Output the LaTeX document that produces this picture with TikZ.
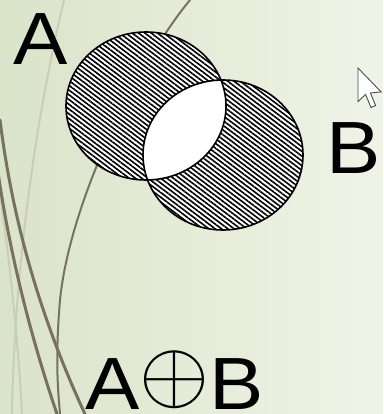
\documentclass[tikz,border=0pt]{standalone}
\usepackage{fontspec}
\setmainfont{Liberation Sans}
\usetikzlibrary{patterns.meta}
\definecolor{slideleft}{RGB}{218,228,201}
\definecolor{slideright}{RGB}{240,243,231}
\definecolor{stem}{RGB}{120,113,96}
\definecolor{stemfaint}{RGB}{200,206,183}
\newcommand{\widetext}[1]{\scalebox{1.1}[1]{#1}}
\begin{document}
\begin{tikzpicture}[
        x=1pt, y=-1pt,
        setlabel/.style={
            inner sep=0pt,
            anchor=base west,
            font=\fontsize{74}{74}\selectfont
        },
        hatch/.style={
            pattern={Lines[angle=-37, distance=3.8pt, line width=1.6pt]},
            pattern color=black
        },
        stemline/.style={stem, line width=3pt, line cap=round},
        faintline/.style={stemfaint, line width=2pt}
    ]
        % Sfondo della slide
        \shade[left color=slideleft, right color=slideright]
            (0,0) rectangle (383,414);
        \useasboundingbox (0,0) rectangle (383,414);

        % Steli decorativi
        \draw[faintline] (64,0) .. controls (40,100) and (15,250) .. (12,414);
        \draw[faintline] (-2,180) .. controls (10,260) and (18,340) .. (22,414);
        \draw[stemline] (0,120) .. controls (10,200) and (32,300) .. (85,414);
        \draw[stemline] (-5,150) .. controls (5,230) and (25,320) .. (57,414);
        \draw[stem, line width=2pt] (190,0) .. controls (140,60) and (70,200) .. (60,300)
            .. controls (55,360) and (58,390) .. (60,414);

        % Insiemi A e B
        \coordinate (cA) at (146,106);
        \coordinate (cB) at (223,155);
        \fill[white] (cA) ellipse [x radius=80, y radius=74];
        \fill[white] (cB) ellipse [x radius=80, y radius=75];
        \fill[hatch, even odd rule]
            (cA) ellipse [x radius=80, y radius=74]
            (cB) ellipse [x radius=80, y radius=75];
        \draw[line width=1.6pt] (cA) ellipse [x radius=80, y radius=74];
        \draw[line width=1.6pt] (cB) ellipse [x radius=80, y radius=75];

        % Etichette
        \node[setlabel] (labelA) at (13,65) {\widetext{A}};
        \node[setlabel] (labelB) at (326,173) {\widetext{B}};
        \node[setlabel] (labelAxorB) at (85,409)
            {\widetext{A}\raisebox{8pt}{\scalebox{9}[8.7]{\normalsize$\oplus$}}\kern0pt\widetext{B}};

        % Puntatore del mouse
        \filldraw[fill=white, draw=black!70, line width=0.9pt, shift={(358,68)}, scale=2.1]
            (0,0) -- (0,16) -- (3.6,12.6) -- (6.2,18.8) -- (8.4,17.9)
            -- (5.9,11.9) -- (11,11.4) -- cycle;
    \end{tikzpicture}
\end{document}
